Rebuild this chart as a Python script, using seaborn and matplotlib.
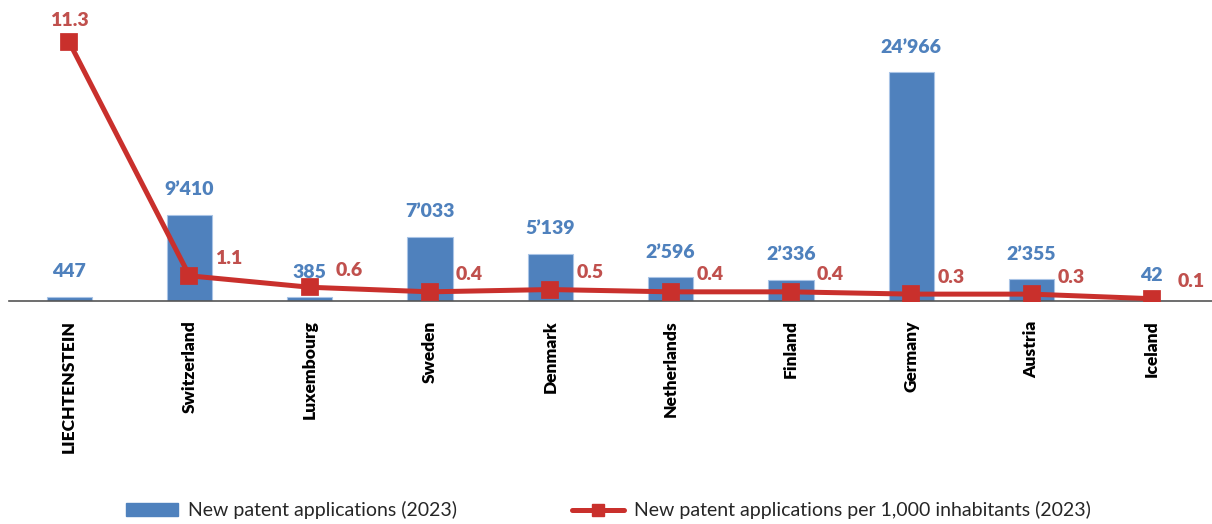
import matplotlib
matplotlib.use("Agg")
import matplotlib.pyplot as plt
import seaborn as sns
from matplotlib.patches import Patch
from matplotlib.lines import Line2D

# data
countries = ["LIECHTENSTEIN", "Switzerland", "Luxembourg", "Sweden", "Denmark",
             "Netherlands", "Finland", "Germany", "Austria", "Iceland"]
applications = [447, 9410, 385, 7033, 5139, 2596, 2336, 24966, 2355, 42]
per_1000 = [11.3, 1.1, 0.6, 0.4, 0.5, 0.4, 0.4, 0.3, 0.3, 0.1]

BAR_LABEL = "New patent applications (2023)"
LINE_LABEL = "New patent applications per 1,000 inhabitants (2023)"

BLUE = "#4F81BD"
BLUE_TXT = "#4F81BD"
RED = "#C9302C"
RED_TXT = "#C0504D"

sns.set_style("white")
plt.rcParams["font.family"] = ["Lato", "DejaVu Sans"]

fig = plt.figure(figsize=(12.12, 5.24), dpi=100)
ax = fig.add_axes([9 / 1212, 223 / 524, 1 - 9 / 1212, 275 / 524])

sns.barplot(x=countries, y=applications, ax=ax, color=BLUE, width=0.375,
            saturation=1, edgecolor="#A9C4E6", linewidth=0.8)
ax.set_ylim(0, 30000)
ax.set_xlim(-0.5, len(countries) - 0.5)

for i, v in enumerate(applications):
    ax.annotate(f"{v:,}".replace(",", "\u2019"), (i, v), xytext=(0, 25),
                textcoords="offset pixels", ha="center", va="center",
                fontsize=14, fontweight="heavy", color=BLUE_TXT)

ax2 = ax.twinx()
sns.pointplot(x=countries, y=per_1000, ax=ax2, color=RED, markers="s",
              markersize=10.5, linewidth=3.6)
ax2.set_ylim(0, 12)
ax2.set_xlim(-0.5, len(countries) - 0.5)

for i, v in enumerate(per_1000):
    if i == 0:
        ax2.annotate(f"{v:.1f}", (i, v), xytext=(0, 22), textcoords="offset pixels",
                     ha="center", va="center", fontsize=14, fontweight="heavy", color=RED_TXT)
    else:
        ax2.annotate(f"{v:.1f}", (i, v), xytext=(26, 17), textcoords="offset pixels",
                     ha="left", va="center", fontsize=14, fontweight="heavy", color=RED_TXT)

for a in (ax, ax2):
    for s in ("top", "right", "left"):
        a.spines[s].set_visible(False)
    a.set_yticks([])
    a.set_ylabel("")
ax2.spines["bottom"].set_visible(False)
ax.spines["bottom"].set_color("#555555")
ax.spines["bottom"].set_linewidth(1.2)

ax.tick_params(axis="x", length=0, pad=14)
ax.set_xticks(range(len(countries)))
ax.set_xticklabels(countries, rotation=90, fontsize=12.5, fontweight="heavy", color="black")
ax2.tick_params(axis="x", length=0, labelbottom=False)

handles = [Patch(facecolor=BLUE, edgecolor=BLUE),
           Line2D([0], [0], color=RED, linewidth=3.6, marker="s", markersize=8)]
fig.legend(handles, [BAR_LABEL, LINE_LABEL], loc="center", bbox_to_anchor=(0.502, 0.026),
           ncol=2, frameon=False, fontsize=14, handlelength=2.7, columnspacing=5.9,
           handletextpad=0.5)

fig.savefig("out.png", dpi=100)
